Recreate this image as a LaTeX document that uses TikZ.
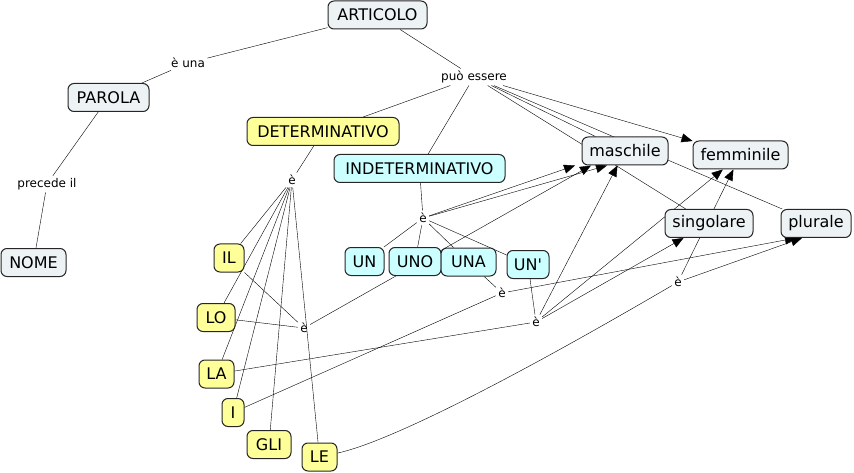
\documentclass[tikz,border=0pt]{standalone}
\usepackage{fontspec}
\setmainfont{DejaVu Sans}
\usepackage{tikz}
\usetikzlibrary{arrows.meta}
\definecolor{conceptgray}{RGB}{237,242,245}
\definecolor{detyellow}{RGB}{255,255,153}
\definecolor{indetcyan}{RGB}{204,255,255}
\pgfdeclarelayer{background}
\pgfsetlayers{background,main}

\begin{document}
\begin{tikzpicture}[x=1pt,y=-1pt,line width=1pt,
		concept/.style={draw=black!85,fill=conceptgray,rounded corners=6pt,minimum height=28pt,inner sep=0pt,font=\fontsize{16}{18}\selectfont},
		detword/.style={concept,fill=detyellow},
		indetword/.style={concept,fill=indetcyan},
		phrase/.style={inner sep=2pt,font=\fontsize{12}{14}\selectfont},
		arr/.style={-{Triangle[length=11pt,width=9pt]}}]
		\useasboundingbox (0,0) rectangle (854,473);
		
		\node[concept, minimum width=99pt] (articolo) at (377.5,15) {ARTICOLO};
		\node[concept, minimum width=81pt] (parola) at (108.5,97.5) {PAROLA};
		\node[concept, minimum width=65pt] (nome) at (33.5,262.5) {NOME};
		\node[detword, minimum width=152pt] (det) at (323,131.5) {DETERMINATIVO};
		\node[indetword, minimum width=171pt] (indet) at (419.5,168.5) {INDETERMINATIVO};
		\node[concept, minimum width=86pt] (maschile) at (625,151) {maschile};
		\node[concept, minimum width=95pt] (femminile) at (740.5,155) {femminile};
		\node[concept, minimum width=88pt] (singolare) at (709,223.5) {singolare};
		\node[concept, minimum width=70pt] (plurale) at (816,223.5) {plurale};
		
		\node[detword, minimum width=30pt] (il) at (229,258) {IL};
		\node[detword, minimum width=38pt] (lo) at (216,317.5) {LO};
		\node[detword, minimum width=35pt] (la) at (216.5,374) {LA};
		\node[detword, minimum width=22pt] (i) at (233,412.5) {I};
		\node[detword, minimum width=44pt] (gli) at (269,444.5) {GLI};
		\node[detword, minimum width=35pt] (le) at (319.5,457) {LE};
		
		\node[indetword, minimum width=39pt] (un) at (364.5,261.5) {UN};
		\node[indetword, minimum width=52pt] (uno) at (415,261.5) {UNO};
		\node[indetword, minimum width=55pt] (una) at (468.5,262) {UNA};
		\node[indetword, minimum width=42pt] (unap) at (528,264.5) {UN\textquotesingle};
		
		\node[phrase] (euna) at (188,63) {è una};
		\node[phrase] (precede) at (47,184) {precede il};
		\node[phrase] (puo) at (474,77) {può essere};
		\node[phrase] (edet) at (292,180) {è};
		\node[phrase] (eindet) at (423,218) {è};
		\node[phrase] (emasc) at (304,328) {è};
		\node[phrase] (eplur) at (502,293) {è};
		\node[phrase] (efsing) at (536,322) {è};
		\node[phrase] (efplur) at (678,282) {è};
		
		\begin{pgfonlayer}{background}
		\draw (articolo) -- (euna);
		\draw (euna) -- (parola);
		\draw (parola) -- (precede);
		\draw (precede) -- (nome);
		\draw (articolo) -- (puo);
		\draw (puo) -- (det);
		\draw (puo) -- (indet);
		\draw (puo) -- (maschile);
		\draw[arr] (puo) -- (femminile);
		\draw (puo) -- (singolare);
		\draw (puo) -- (plurale);
		
		\draw (det) -- (edet);
		\draw (edet) -- (il);
		\draw (edet) -- (lo);
		\draw (edet) -- (la);
		\draw (edet) -- (i);
		\draw (edet) -- (gli);
		\draw (edet) -- (le);
		
		\draw (indet) -- (eindet);
		\draw (eindet) -- (un);
		\draw (eindet) -- (uno);
		\draw (eindet) -- (una);
		\draw (eindet) -- (unap);
		\draw[arr] (eindet) -- ([xshift=-50pt]maschile.south);
		\draw[arr] (eindet) -- ([xshift=-18pt]maschile.south);
		
		\draw (il) -- (emasc);
		\draw (lo) -- (emasc);
		\draw[arr] (emasc) -- ([xshift=-34pt]maschile.south);
		
		\draw (una) -- (eplur);
		\draw (i) -- (eplur);
		\draw[arr] (eplur) -- ([xshift=-20pt]plurale.south);
		
		\draw (unap) -- (efsing);
		\draw (la) -- (efsing);
		\draw[arr] (efsing) -- (maschile);
		\draw[arr] (efsing) -- (femminile);
		\draw[arr] (efsing) -- (singolare);
		
		\draw (le) .. controls (384,443) and (495,389) .. (efplur);
		\draw[arr] (efplur) -- (femminile);
		\draw[arr] (efplur) -- ([xshift=-14pt]plurale.south);
		\end{pgfonlayer}
	\end{tikzpicture}
\end{document}
